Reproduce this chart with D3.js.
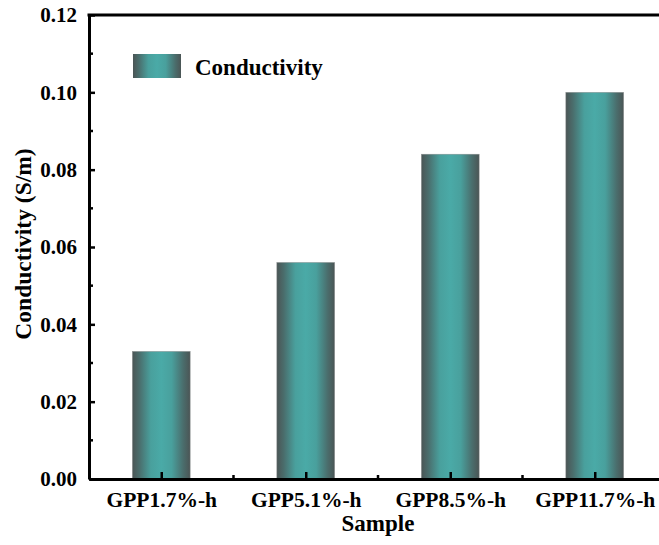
<!DOCTYPE html>
<html><head><meta charset="utf-8">
<script src="https://cdn.jsdelivr.net/npm/d3@7"></script>
<style>body{margin:0;background:#fff}svg{display:block}text{font-family:"Liberation Serif","Times New Roman",serif;font-weight:bold;fill:#000}</style>
</head><body>
<svg id="c" width="659" height="545"></svg>
<script>
const categories = ["GPP1.7%-h","GPP5.1%-h","GPP8.5%-h","GPP11.7%-h"];
const conductivity = [0.033, 0.056, 0.084, 0.100];
const yTicks = [0.00,0.02,0.04,0.06,0.08,0.10,0.12];
const seriesName = "Conductivity";
const xTitle = "Sample";
const yTitle = "Conductivity (S/m)";

const svg = d3.select("#c");
const L = 89, R = 667, T = 15, B = 479;
const x = d3.scaleLinear().domain([0.5, categories.length + 0.5]).range([L, R]);
const y = d3.scaleLinear().domain([0, 0.12]).range([B, T]);
const bw = (x(1) - x(0)) * 0.4;

const defs = svg.append("defs");
const g = defs.append("linearGradient").attr("id","bg").attr("x1","0").attr("x2","1").attr("y1","0").attr("y2","0");
[[0,"#4b5555"],[0.12,"#4a6d6c"],[0.32,"#49a09d"],[0.5,"#4aaaa7"],[0.68,"#49a09d"],[0.88,"#4a6d6c"],[1,"#4b5555"]]
  .forEach(s=>g.append("stop").attr("offset",s[0]).attr("stop-color",s[1]));

svg.selectAll("rect.bar").data(conductivity).join("rect").attr("class","bar")
  .attr("x",(d,i)=>x(i+1)-bw/2).attr("width",bw)
  .attr("y",d=>y(d)).attr("height",d=>y(0)-y(d))
  .attr("fill","url(#bg)").attr("stroke","#8a9090").attr("stroke-width",0.5);

// axes
const yAxis = d3.axisLeft(y).tickValues(yTicks).tickFormat(d3.format(".2f")).tickSizeInner(-6).tickSizeOuter(0).tickPadding(12);
const ya = svg.append("g").attr("transform",`translate(${L},0)`).call(yAxis);
ya.selectAll("text").style("font-size","21px");
const minorY = d3.range(0.01, 0.12, 0.02);
svg.append("g").selectAll("line").data(minorY).join("line")
  .attr("x1",L).attr("x2",L+4).attr("y1",d=>y(d)).attr("y2",d=>y(d)).attr("stroke","#000").attr("stroke-width",2.5);

const xAxis = d3.axisBottom(x).tickValues(categories.map((c,i)=>i+1)).tickFormat((d,i)=>categories[i]).tickSizeInner(-7).tickSizeOuter(0).tickPadding(13);
const xa = svg.append("g").attr("transform",`translate(0,${B})`).call(xAxis);
xa.selectAll("text").style("font-size","21.5px");
const minorX = d3.range(1.5, categories.length, 1);
svg.append("g").selectAll("line").data(minorX).join("line")
  .attr("x1",d=>x(d)).attr("x2",d=>x(d)).attr("y1",B).attr("y2",B-4).attr("stroke","#000").attr("stroke-width",2.5);

[ya, xa].forEach(a=>{a.select(".domain").attr("stroke-width",3).attr("stroke","#000");a.selectAll(".tick line").attr("stroke-width",2.5);});
// top frame
svg.append("line").attr("x1",L-1.5).attr("x2",R).attr("y1",T).attr("y2",T).attr("stroke","#000").attr("stroke-width",3);

// legend
svg.append("rect").attr("x",133).attr("y",54).attr("width",48).attr("height",24).attr("fill","url(#bg)");
svg.append("text").attr("x",195).attr("y",75).style("font-size","23px").text(seriesName);

svg.append("text").attr("x",378).attr("y",531).attr("text-anchor","middle").style("font-size","23px").text(xTitle);
svg.append("text").attr("transform","translate(31,244) rotate(-90)").attr("text-anchor","middle").style("font-size","23.5px").text(yTitle);
</script>
</body></html>
